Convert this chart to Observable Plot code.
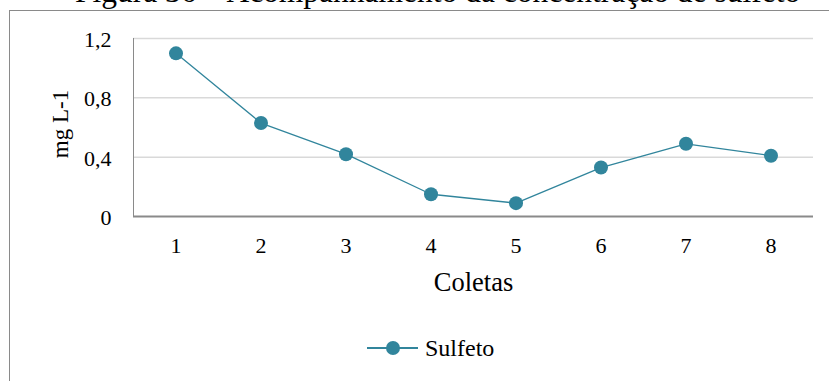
<!DOCTYPE html>
<html>
<head>
<meta charset="utf-8">
<script src="https://cdn.jsdelivr.net/npm/d3@7"></script>
<script src="https://cdn.jsdelivr.net/npm/@observablehq/plot@0.6"></script>
<style>
  html, body { margin: 0; padding: 0; background: #fff; }
  #wrap { position: relative; width: 829px; height: 381px; overflow: hidden; font-family: "Liberation Serif", "Times New Roman", serif; color: #000; }
  #title { position: absolute; left: 75px; top: -24px; font-size: 31.5px; line-height: 1; white-space: nowrap; }
  #frame { position: absolute; left: 9px; top: 10px; width: 900px; height: 500px; border: 1.5px solid #8a8a8a; box-sizing: border-box; }
  #chart { position: absolute; left: 0; top: 0; }
  #legend { position: absolute; left: 367px; top: 334.5px; display: flex; align-items: center; font-size: 24px; }
  #legend svg { display: block; margin-right: 6px; }
</style>
</head>
<body>
<div id="wrap">
  <div id="frame"></div>
  <div id="title">Figura 36 – Acompanhamento da concentração de sulfeto</div>
  <div id="chart"></div>
  <div id="legend"></div>
</div>
<script>
// Sulfide concentration per sampling campaign (mg L-1)
const coletas = [1, 2, 3, 4, 5, 6, 7, 8];
const sulfeto = [1.10, 0.63, 0.42, 0.15, 0.09, 0.33, 0.49, 0.41];
const yTicks = [0, 0.4, 0.8, 1.2];
const seriesName = "Sulfeto";
const xTitle = "Coletas";
const yTitle = "mg L-1";

const teal = "#31859c";
const data = coletas.map((c, i) => ({coleta: c, valor: sulfeto[i]}));
const fmt = v => v === 0 ? "0" : String(v).replace(".", ",");

const chart = Plot.plot({
  width: 829,
  height: 300,
  marginLeft: 133,
  marginRight: 16,
  marginTop: 38,
  marginBottom: 84,
  style: {fontFamily: "Liberation Serif, Times New Roman, serif", fontSize: "22px", color: "#000", background: "transparent"},
  x: {domain: [0.5, 8.5]},
  y: {domain: [0, 1.2]},
  marks: [
    Plot.ruleY(yTicks.filter(d => d > 0), {stroke: "#d9d9d9", strokeWidth: 1.5}),
    Plot.ruleX([0.5], {stroke: "#8a8a8a", strokeWidth: 1}),
    Plot.ruleY([0], {stroke: "#8a8a8a", strokeWidth: 2}),
    Plot.axisX(coletas, {tickSize: 0, tickPadding: 21, label: null, fontSize: 22}),
    Plot.axisY(yTicks, {tickSize: 0, tickPadding: 22, label: null, tickFormat: fmt, fontSize: 22, dy: 1.5}),
    Plot.text([xTitle], {frameAnchor: "bottom", lineAnchor: "middle", dy: 66, fontSize: 26.5}),
    Plot.text([yTitle], {frameAnchor: "left", textAnchor: "middle", lineAnchor: "middle", dx: -73, dy: -3.5, rotate: -90, fontSize: 23}),
    Plot.line(data, {x: "coleta", y: "valor", stroke: teal, strokeWidth: 1.3}),
    Plot.dot(data, {x: "coleta", y: "valor", r: 7, fill: teal, stroke: "none"})
  ]
});
document.getElementById("chart").appendChild(chart);

// Legend: series swatch and name
const legend = document.getElementById("legend");
legend.innerHTML =
  `<svg width="52" height="24"><line x1="0" y1="12" x2="51" y2="12" stroke="${teal}" stroke-width="2"/>` +
  `<circle cx="26" cy="12" r="7" fill="${teal}"/></svg><span>${seriesName}</span>`;
</script>
</body>
</html>
